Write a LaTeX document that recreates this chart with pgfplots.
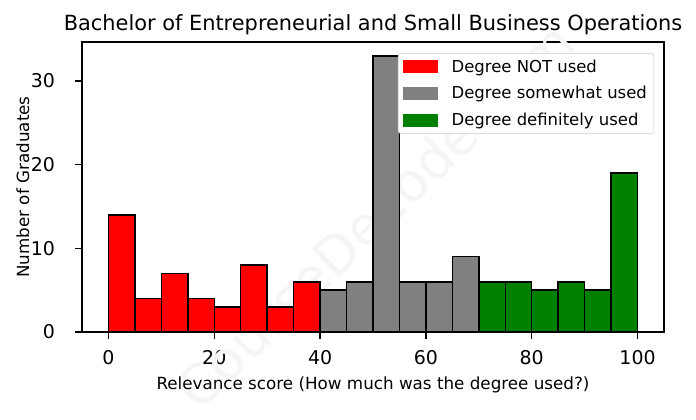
\documentclass[border=0pt]{standalone}
\usepackage{fontspec}
\setmainfont{DejaVu Sans}
\usepackage{pgfplots}
\pgfplotsset{compat=1.18}
\definecolor{mplred}{RGB}{255,0,0}
\definecolor{mplgray}{RGB}{128,128,128}
\definecolor{mplgreen}{RGB}{0,128,0}
\pgfplotsset{patchlegend/.style={legend image code/.code={\path[fill=#1,draw=none,sharp corners] (0pt,-4.7pt) rectangle (25.3pt,4.7pt); \path (0pt,0pt) (32.6pt,0pt);}}}
\begin{document}
\begin{tikzpicture}
\begin{axis}[
  width=420.6pt, height=209.6pt, scale only axis,
  xmin=-5, xmax=105, ymin=0, ymax=34.65,
  clip=false,
  axis line style={black, line width=0.9pt},
  xtick={0,20,40,60,80,100}, ytick={0,10,20,30},
  tick align=outside, tick pos=left,
  major tick length=4.8pt,
  every tick/.style={black, line width=0.9pt},
  /pgf/number format/assume math mode=true,
  ticklabel style={font=\fontsize{13.7}{16}\selectfont},
  xticklabel style={anchor=base, inner sep=0pt, yshift=-18.8pt},
  yticklabel style={anchor=east, inner sep=0pt, xshift=-14.5pt},
  title={Bachelor of Entrepreneurial and Small Business Operations},
  title style={font=\fontsize{15.1}{17}\selectfont, at={(0.5,1)}, anchor=base, inner sep=0pt, yshift=2.2pt},
  xlabel={Relevance score (How much was the degree used?)},
  xlabel style={font=\fontsize{12.1}{14}\selectfont, at={(0.5,0)}, anchor=base, inner sep=0pt, yshift=-41.2pt},
  ylabel={Number of Graduates},
  ylabel style={font=\fontsize{12.1}{14}\selectfont, at={(0,0.5)}, anchor=base, inner sep=0pt, yshift=38.3pt},
  legend cell align=left,
  legend style={at={(0.983,0.962)}, anchor=north east, draw=black!20, rounded corners=2pt,
    fill=white, font=\fontsize{11.9}{14}\selectfont,
    inner xsep=3pt, inner ysep=2.5pt, row sep=4.7pt},
]
\node[rotate=44, text=black!4, font=\fontsize{39}{40}\selectfont] at (rel axis cs:0.503,0.403) {CourseDecode.com};
\addplot[ybar interval, fill=mplred, draw=black, line width=1pt, patchlegend=mplred] coordinates {
(0,14) (5,4) (10,7) (15,4) (20,3) (25,8) (30,3) (35,6) (40,6)};
\addlegendentry{Degree NOT used}
\addplot[ybar interval, fill=mplgray, draw=black, line width=1pt, patchlegend=mplgray] coordinates {
(40,5) (45,6) (50,33) (55,6) (60,6) (65,9) (70,9)};
\addlegendentry{Degree somewhat used}
\addplot[ybar interval, fill=mplgreen, draw=black, line width=1pt, patchlegend=mplgreen] coordinates {
(70,6) (75,6) (80,5) (85,6) (90,5) (95,19) (100,19)};
\addlegendentry{Degree definitely used}
\coordinate (bbl) at (rel axis cs:-0.1409,-0.2621);
\coordinate (btr) at (rel axis cs:1.0550,1.1448);
\end{axis}
\path (bbl) rectangle (btr);
\end{tikzpicture}
\end{document}
